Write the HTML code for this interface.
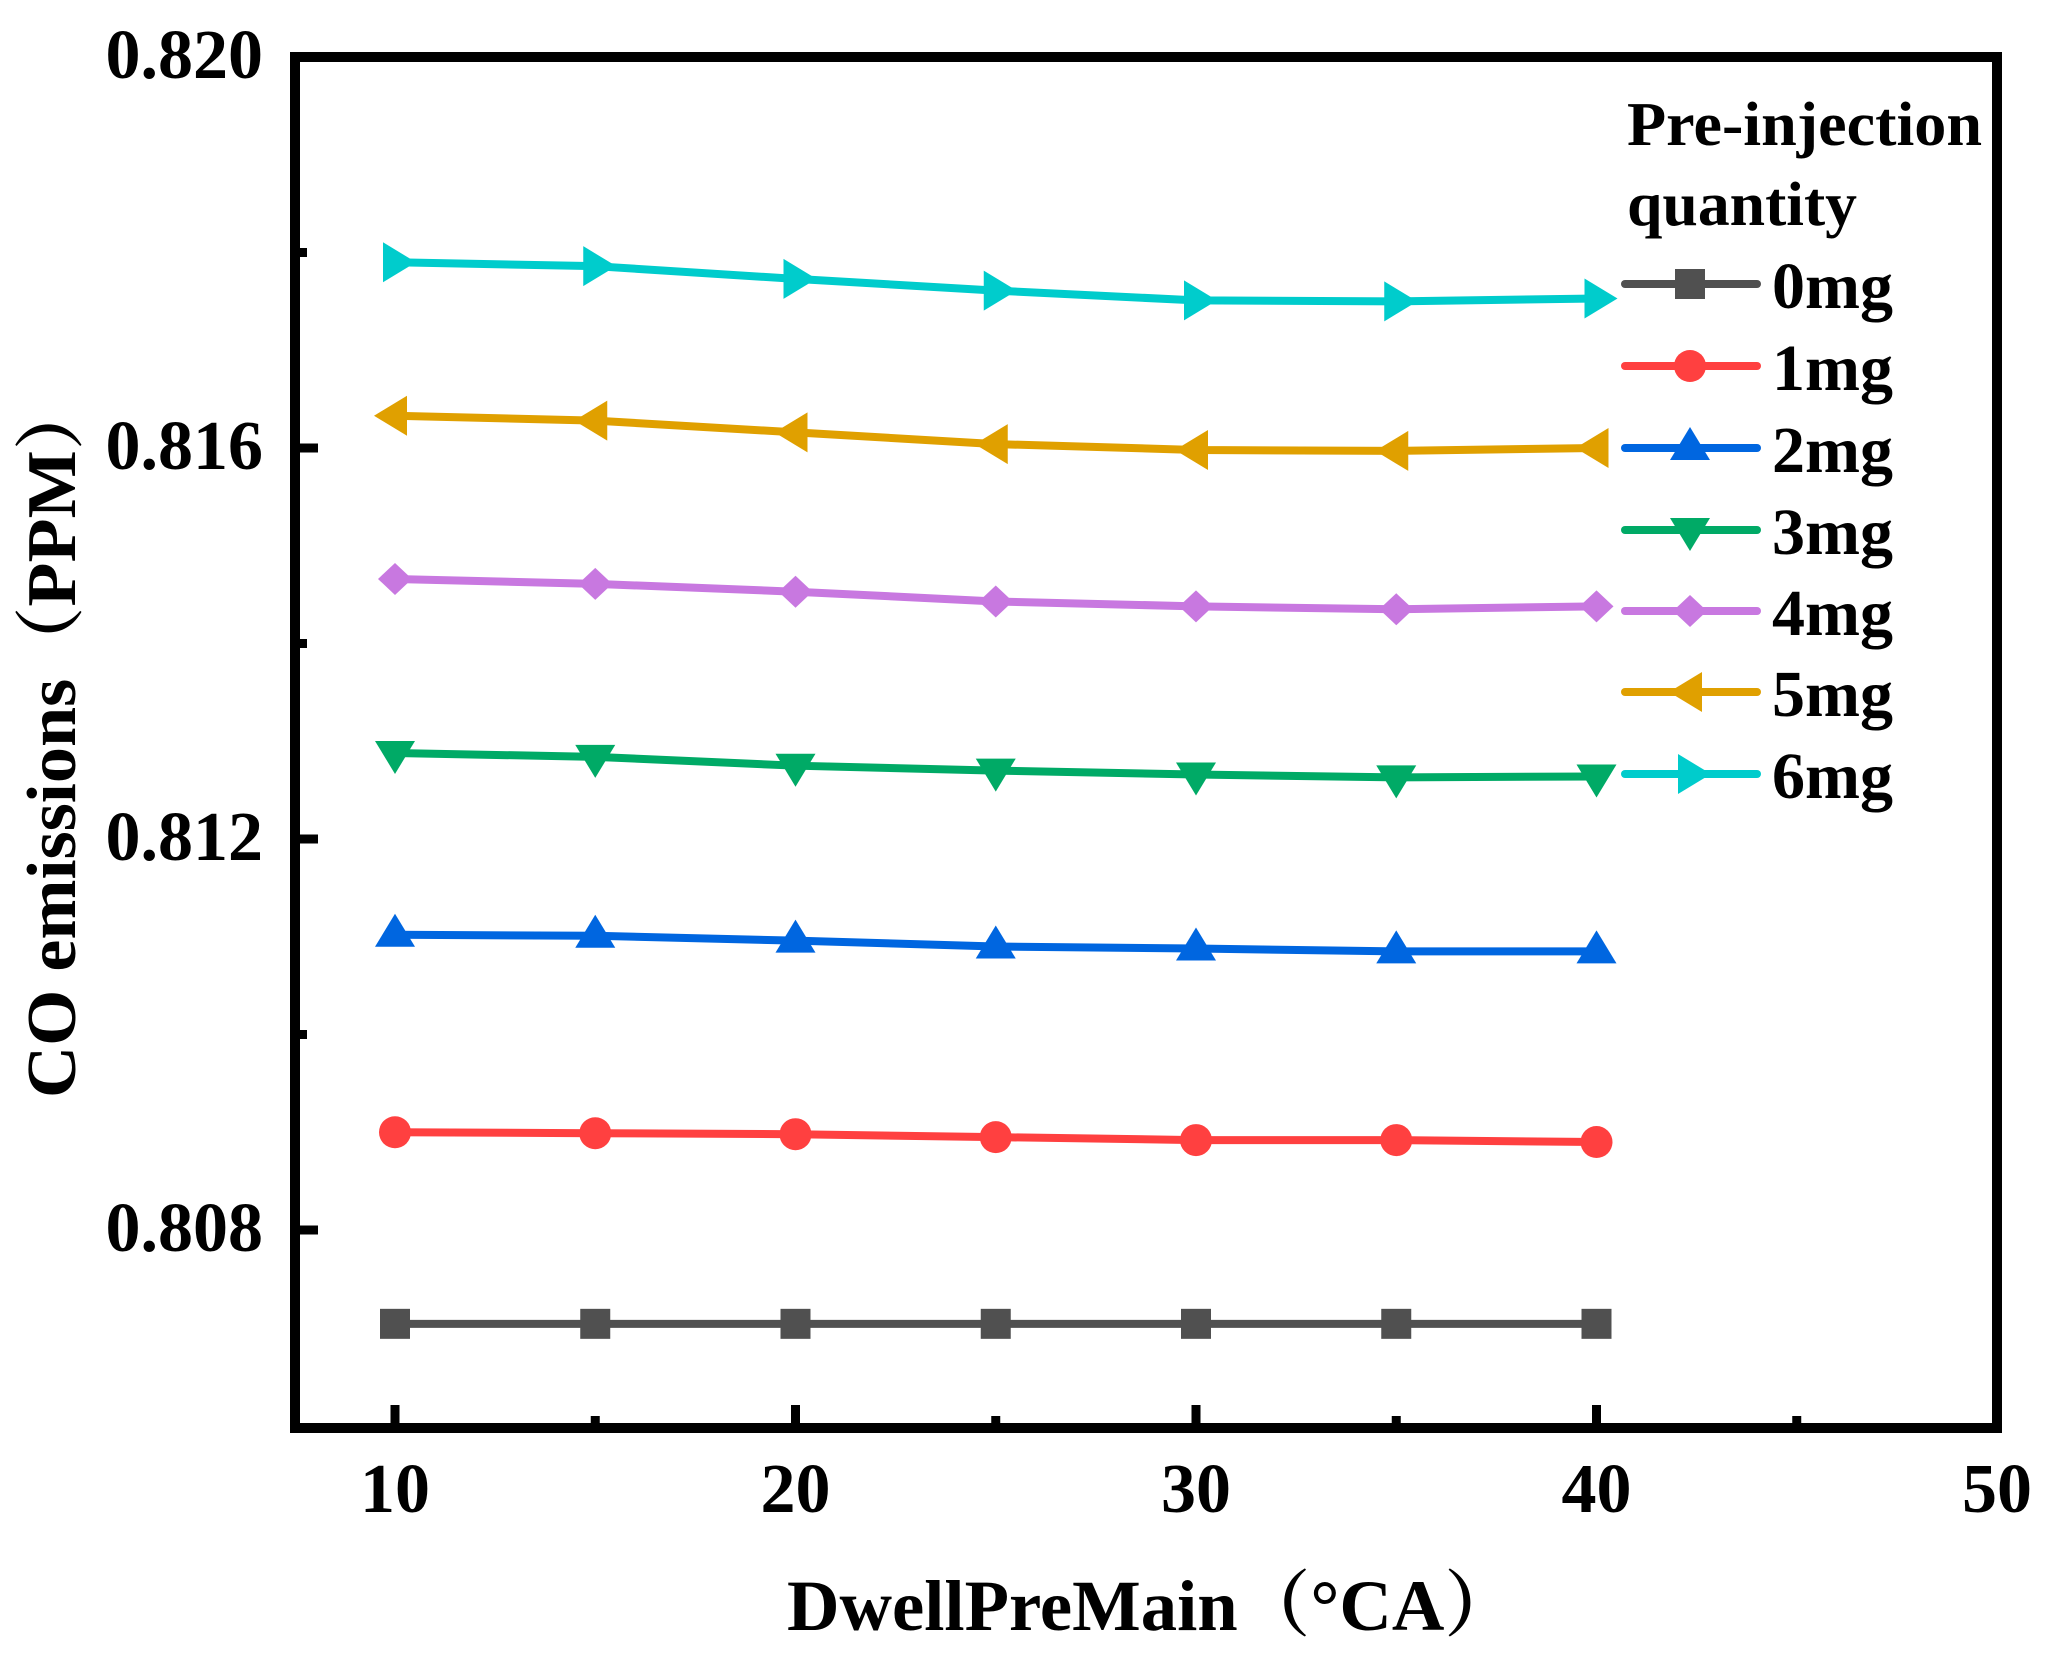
<!DOCTYPE html>
<html><head><meta charset="utf-8"><style>
html,body{margin:0;padding:0;background:#fff;}
svg{display:block;}
text{font-family:"Liberation Serif","Noto Serif CJK SC",serif;font-weight:bold;fill:#000;}
</style></head><body>
<svg id="chart" width="2050" height="1655" viewBox="0 0 2050 1655" xmlns="http://www.w3.org/2000/svg">
<rect x="0" y="0" width="2050" height="1655" fill="#fff"/>
<g id="plot"></g>
<g id="axes"></g>
<g id="legend"></g>
</svg>
<script>
const xValues = [10, 15, 20, 25, 30, 35, 40];
const seriesNames = ["0mg","1mg","2mg","3mg","4mg","5mg","6mg"];
const s0 = [0.80704,0.80704,0.80704,0.80704,0.80704,0.80704,0.80704];
const s1 = [0.80900,0.80899,0.80898,0.80895,0.80892,0.80892,0.80890];
const s2 = [0.81102,0.81101,0.81096,0.81090,0.81088,0.81085,0.81085];
const s3 = [0.81288,0.81284,0.81275,0.81270,0.81266,0.81263,0.81264];
const s4 = [0.81466,0.81461,0.81453,0.81443,0.81438,0.81435,0.81438];
const s5 = [0.81633,0.81628,0.81616,0.81604,0.81598,0.81597,0.81600];
const s6 = [0.81790,0.81786,0.81773,0.81761,0.81751,0.81750,0.81753];
const xTicks = [10,20,30,40,50];
const xMinorTicks = [15,25,35,45];
const yTicks = [0.808,0.812,0.816,0.820];
const yTickLabels = ["0.808","0.812","0.816","0.820"];
const yMinorTicks = [0.810,0.814,0.818];

const NS="http://www.w3.org/2000/svg";
const L=295,R=1997,T=57,B=1428;
function xs(v){return 395+(v-10)*(1997-395)/40;}
function ys(v){return 57+(0.820-v)/0.004*391;}
function mk(tag,attrs,parent){const e=document.createElementNS(NS,tag);for(const k in attrs)e.setAttribute(k,attrs[k]);parent.appendChild(e);return e;}
const plot=document.getElementById('plot'),axes=document.getElementById('axes'),legend=document.getElementById('legend');
const colors=["#505050","#ff4040","#0066e0","#00aa66","#c878e0","#e0a000","#00cccc"];
const shapes=["square","circle","up","down","diamond","left","right"];
const allSeries=[s0,s1,s2,s3,s4,s5,s6];
function marker(shape,cx,cy,col,parent){
  let e;
  if(shape==="square") e=mk('rect',{x:cx-15,y:cy-15,width:30,height:30,fill:col},parent);
  else if(shape==="circle") e=mk('circle',{cx:cx,cy:cy,r:16,fill:col},parent);
  else {
    let p;
    if(shape==="up") p=[[cx,cy-21],[cx+20,cy+12],[cx-20,cy+12]];
    else if(shape==="down") p=[[cx,cy+21],[cx+20,cy-12],[cx-20,cy-12]];
    else if(shape==="diamond") p=[[cx,cy-16],[cx+17,cy],[cx,cy+16],[cx-17,cy]];
    else if(shape==="left") p=[[cx-21,cy],[cx+12,cy-20],[cx+12,cy+20]];
    else p=[[cx+21,cy],[cx-12,cy-20],[cx-12,cy+20]];
    e=mk('polygon',{points:p.map(q=>q.join(',')).join(' '),fill:col},parent);
  }
  return e;
}
allSeries.forEach((s,i)=>{
  const g=mk('g',{},plot);
  
  
  const pl=mk('polyline',{points:s.map((v,j)=>xs(xValues[j])+','+ys(v)).join(' '),fill:'none',stroke:colors[i],'stroke-width':8,'stroke-linejoin':'round'},g);
  
  
  s.forEach((v,j)=>{
    const m=marker(shapes[i],xs(xValues[j]),ys(v),colors[i],g);
    
    
  });
});
const fr=mk('rect',{x:L,y:T,width:R-L,height:B-T,fill:'none',stroke:'#000','stroke-width':10},axes);


xTicks.forEach(v=>{
  const t=mk('line',{x1:xs(v),x2:xs(v),y1:B,y2:B-23,stroke:'#000','stroke-width':9},axes);
  
  
  const tx=mk('text',{x:xs(v),y:1512,'font-size':70,'text-anchor':'middle'},axes);
  tx.textContent=v;
  
  
});
xMinorTicks.forEach(v=>{
  const t=mk('line',{x1:xs(v),x2:xs(v),y1:B,y2:B-12,stroke:'#000','stroke-width':9},axes);
  
  
});
yTicks.forEach((v,i)=>{
  const t=mk('line',{x1:L,x2:L+23,y1:ys(v),y2:ys(v),stroke:'#000','stroke-width':9},axes);
  
  
  const tx=mk('text',{x:263,y:ys(v)+21,'font-size':70,'text-anchor':'end'},axes);
  tx.textContent=yTickLabels[i];
  
  
});
yMinorTicks.forEach(v=>{
  const t=mk('line',{x1:L,x2:L+12,y1:ys(v),y2:ys(v),stroke:'#000','stroke-width':9},axes);
  
  
});
const xt=mk('text',{x:787,y:1630,'font-size':72,textLength:730,lengthAdjust:'spacingAndGlyphs'},axes);
xt.textContent='DwellPreMain（°CA）';


const yt=mk('text',{x:0,y:0,'font-size':70,textLength:720,lengthAdjust:'spacingAndGlyphs',transform:'translate(75,1098) rotate(-90)'},axes);
yt.textContent='CO emissions（PPM）';


const lt1=mk('text',{x:1627,y:145,'font-size':62,textLength:355,lengthAdjust:'spacingAndGlyphs'},legend);
lt1.textContent='Pre-injection';


const lt2=mk('text',{x:1627,y:225,'font-size':62,textLength:230,lengthAdjust:'spacingAndGlyphs'},legend);
lt2.textContent='quantity';


const legY=[284,366,448,530,611,692,774];
seriesNames.forEach((n,i)=>{
  const g=mk('g',{},legend);
  
  
  const y=legY[i];
  mk('line',{x1:1625,x2:1757,y1:y,y2:y,stroke:colors[i],'stroke-width':8,'stroke-linecap':'round'},g);
  marker(shapes[i],1690,y,colors[i],g);
  const t=mk('text',{x:1772,y:y+24,'font-size':66},g);
  t.textContent=n;
});
</script>
</body></html>
